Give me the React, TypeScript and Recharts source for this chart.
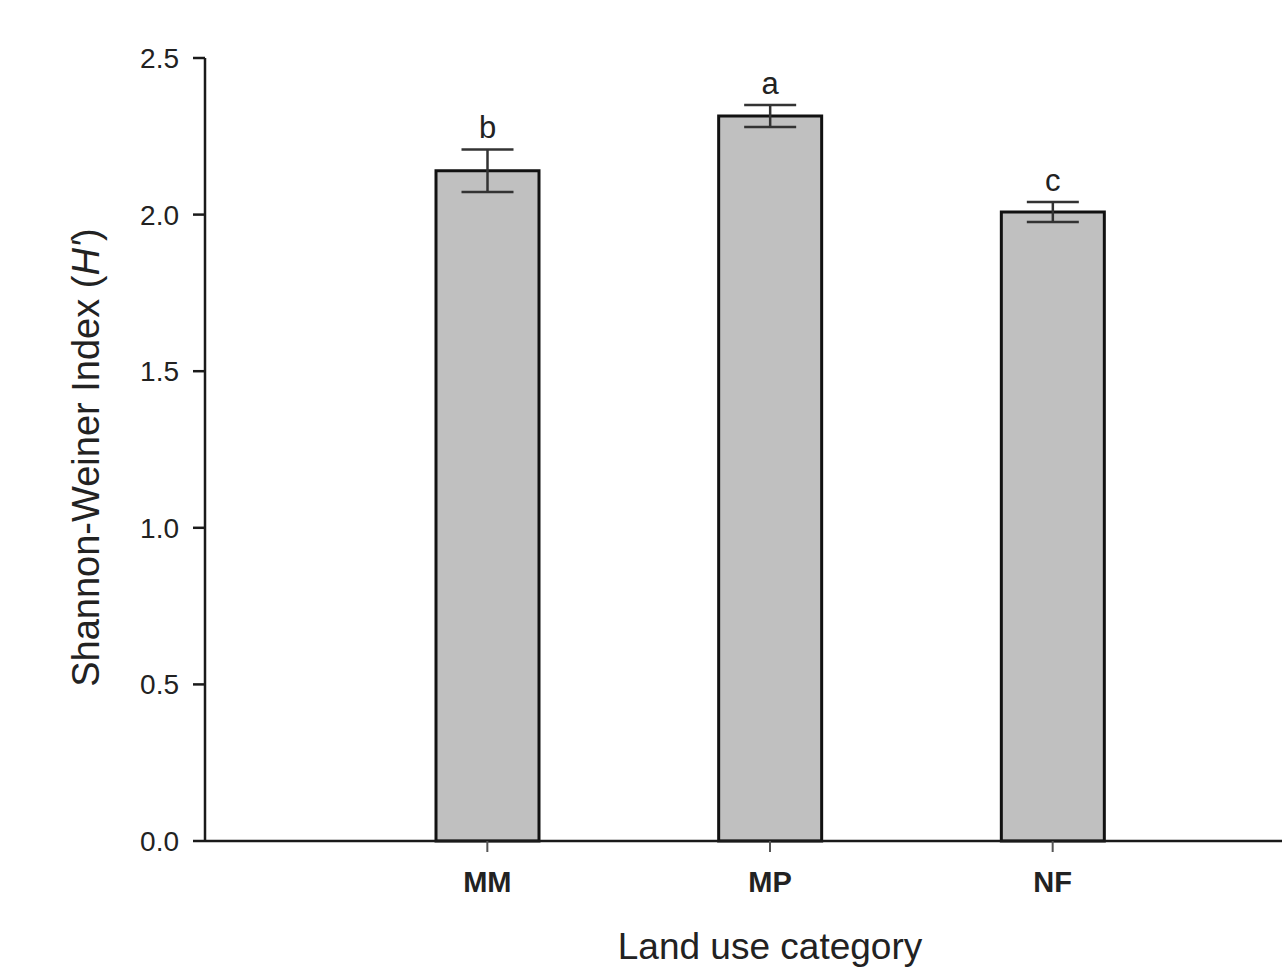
import { Bar, BarChart, ErrorBar, Label, LabelList, XAxis, YAxis } from "recharts";

const categories = ["MM", "MP", "NF"];
const shannon = [2.14, 2.315, 2.008];
const stdErr = [0.068, 0.035, 0.032];
const groupLetters = ["b", "a", "c"];
const yTicks = [0, 0.5, 1.0, 1.5, 2.0, 2.5];

const data = categories.map((name, i) => ({
  name,
  h: shannon[i],
  err: stdErr[i],
  letter: groupLetters[i],
}));

const FONT = '"Liberation Sans", Arial, Helvetica, sans-serif';

// letter sits just above the top of the error bar
const renderLetter = (props: any) => {
  const { x, y, width, height, index } = props;
  const pxPerUnit = height / shannon[index];
  const errTop = y - stdErr[index] * pxPerUnit;
  return (
    <text
      x={x + width / 2}
      y={errTop - 11}
      textAnchor="middle"
      fontSize={31}
      fontFamily={FONT}
      fill="#222"
    >
      {groupLetters[index]}
    </text>
  );
};

const YTitle = (props: any) => {
  const vb = props.viewBox || { x: 0, y: 58, width: 205, height: 783 };
  const x = vb.x + 86;
  const y = vb.y + vb.height / 2 + 8;
  return (
    <text
      x={x}
      y={y}
      transform={`rotate(-90, ${x}, ${y})`}
      textAnchor="middle"
      dominantBaseline="central"
      fontSize={38}
      fontFamily={FONT}
      fill="#222"
    >
      Shannon-Weiner Index (<tspan fontStyle="italic">H'</tspan>)
    </text>
  );
};

export default function App() {
  return (
    <div
      style={{
        position: "absolute",
        left: 0,
        top: 0,
        width: 1282,
        height: 969,
        overflow: "hidden",
        background: "#fff",
      }}
    >
      <BarChart
        width={1340}
        height={969}
        data={data}
        margin={{ top: 58, right: 5, left: 0, bottom: 0 }}
      >
        <XAxis
          dataKey="name"
          height={128}
          padding={{ left: 141, right: 141 }}
          axisLine={{ stroke: "#1a1a1a", strokeWidth: 2.5 }}
          tickLine={{ stroke: "#555", strokeWidth: 2 }}
          tickSize={11}
          tickMargin={19}
          tick={{ fontSize: 29, fontWeight: "bold", fill: "#222", fontFamily: FONT }}
        >
          <Label
            value="Land use category"
            position="center"
            dy={41}
            fontSize={37}
            fontFamily={FONT}
            fill="#222"
          />
        </XAxis>
        <YAxis
          width={205}
          domain={[0, 2.5]}
          ticks={yTicks}
          interval={0}
          tickFormatter={(v: number) => v.toFixed(1)}
          axisLine={{ stroke: "#1a1a1a", strokeWidth: 2.5 }}
          tickLine={{ stroke: "#1a1a1a", strokeWidth: 2.5 }}
          tickSize={12}
          tickMargin={14}
          tick={{ fontSize: 28, fill: "#222", fontFamily: FONT }}
        >
          <Label content={YTitle} />
        </YAxis>
        <Bar
          dataKey="h"
          barSize={103}
          fill="#c0c0c0"
          stroke="#111"
          strokeWidth={3}
          isAnimationActive={false}
        >
          <ErrorBar dataKey="err" width={26} stroke="#333" strokeWidth={2.5} direction="y" />
          <LabelList dataKey="h" content={renderLetter} />
        </Bar>
      </BarChart>
    </div>
  );
}
